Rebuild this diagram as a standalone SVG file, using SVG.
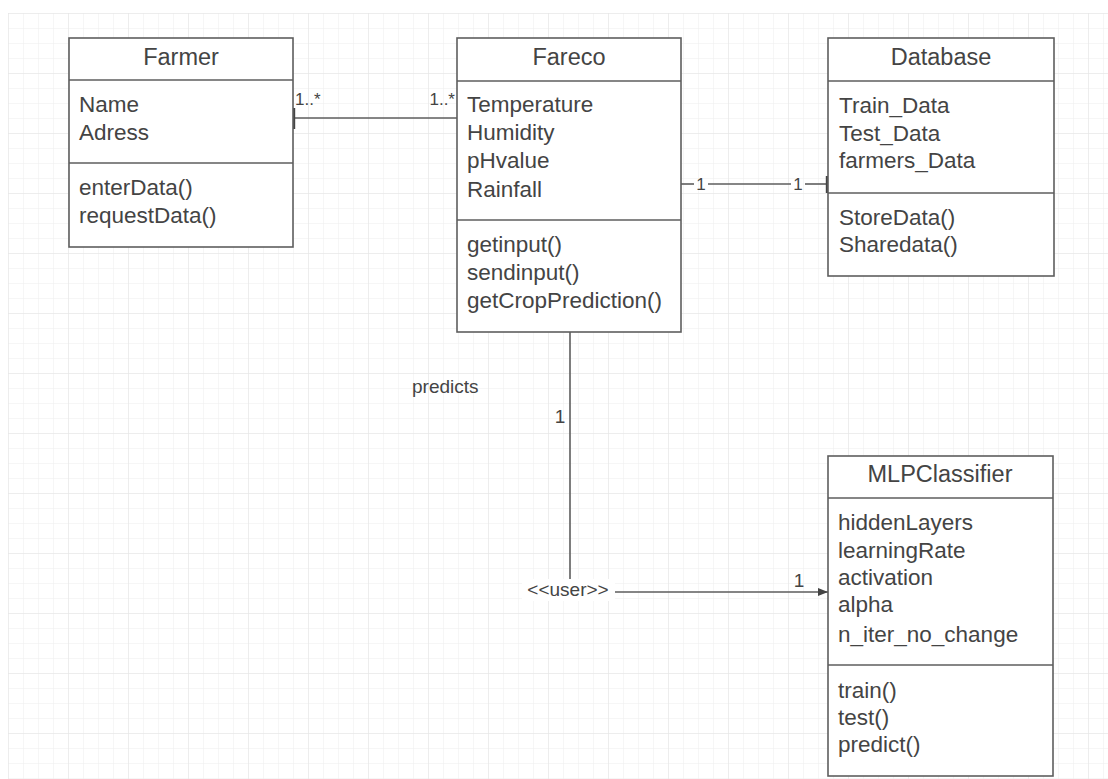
<svg xmlns="http://www.w3.org/2000/svg" width="1108" height="779" viewBox="0 0 1108 779">
  <defs>
    <pattern id="gridMinor" x="8" y="13" width="15" height="15" patternUnits="userSpaceOnUse">
      <path d="M15 0 L0 0 0 15" fill="none" stroke="#ededed" stroke-width="1"/>
    </pattern>
    <pattern id="gridMajor" x="8" y="13" width="60" height="60" patternUnits="userSpaceOnUse">
      <path d="M60 0 L0 0 0 60" fill="none" stroke="#e4e4e4" stroke-width="1"/>
    </pattern>
    <marker id="arrowFilled" viewBox="0 0 10 8" refX="10" refY="4" markerWidth="10" markerHeight="8" markerUnits="userSpaceOnUse" orient="auto">
      <path d="M0 0 L10 4 L0 8 Z" fill="#444"/>
    </marker>
  </defs>
  <style>
    .box { fill: #ffffff; stroke: #5e5e5e; stroke-width: 1.6; }
    .div { stroke: #5e5e5e; stroke-width: 1.6; }
    .title { font-family: "Liberation Sans", Arial, sans-serif; font-size: 23.5px; fill: #444; text-anchor: middle; }
    .item { font-family: "Liberation Sans", Arial, sans-serif; font-size: 22.5px; fill: #444; }
    .edge { fill: none; stroke: #5e5e5e; stroke-width: 1.6; }
    .tick { stroke: #444; stroke-width: 2.4; }
    .mult { font-family: "Liberation Sans", Arial, sans-serif; font-size: 17px; fill: #444; }
    .lbl { font-family: "Liberation Sans", Arial, sans-serif; font-size: 19px; fill: #444; }
  </style>

  <!-- page background with drawing grid -->
  <rect x="0" y="0" width="1108" height="779" fill="#ffffff"/>
  <rect x="8" y="13" width="1100" height="766" fill="url(#gridMinor)"/>
  <rect x="8" y="13" width="1100" height="766" fill="url(#gridMajor)"/>

  <!-- associations -->
  <g id="connectors">
    <!-- Farmer 1..* — 1..* Fareco -->
    <line class="edge" x1="293" y1="118" x2="457" y2="118"/>
    <line class="tick" x1="294" y1="108" x2="294" y2="129"/>
    <text class="mult" x="295" y="105">1..*</text>
    <text class="mult" x="455" y="105" text-anchor="end">1..*</text>

    <!-- Fareco 1 — 1 Database -->
    <line class="edge" x1="681" y1="184" x2="694" y2="184"/>
    <line class="edge" x1="708" y1="184" x2="791" y2="184"/>
    <line class="edge" x1="805" y1="184" x2="828" y2="184"/>
    <line class="tick" x1="827" y1="176" x2="827" y2="193"/>
    <text class="mult" x="701" y="190" text-anchor="middle">1</text>
    <text class="mult" x="798" y="190" text-anchor="middle">1</text>

    <!-- Fareco predicts MLPClassifier -->
    <path class="edge" d="M570 332 L570 592 L828 592" marker-end="url(#arrowFilled)"/>
    <rect x="522" y="579" width="93" height="22" fill="#ffffff"/>
    <text class="lbl" x="568" y="596" text-anchor="middle" font-size="17.5">&lt;&lt;user&gt;&gt;</text>
    <text class="lbl" x="412" y="393">predicts</text>
    <text class="lbl" x="560" y="423" text-anchor="middle">1</text>
    <text class="lbl" x="799" y="587" text-anchor="middle">1</text>
  </g>

  <!-- Farmer -->
  <g id="farmer">
    <rect class="box" x="69" y="38" width="224" height="209"/>
    <line class="div" x1="69" y1="80" x2="293" y2="80"/>
    <line class="div" x1="69" y1="163" x2="293" y2="163"/>
    <text class="title" x="181" y="65">Farmer</text>
    <text class="item" x="79" y="112">Name</text>
    <text class="item" x="79" y="140">Adress</text>
    <text class="item" x="79" y="195">enterData()</text>
    <text class="item" x="79" y="223">requestData()</text>
  </g>

  <!-- Fareco -->
  <g id="fareco">
    <rect class="box" x="457" y="38" width="224" height="294"/>
    <line class="div" x1="457" y1="81" x2="681" y2="81"/>
    <line class="div" x1="457" y1="220" x2="681" y2="220"/>
    <text class="title" x="569" y="65">Fareco</text>
    <text class="item" x="467" y="112">Temperature</text>
    <text class="item" x="467" y="140">Humidity</text>
    <text class="item" x="467" y="168">pHvalue</text>
    <text class="item" x="467" y="197">Rainfall</text>
    <text class="item" x="467" y="252">getinput()</text>
    <text class="item" x="467" y="280">sendinput()</text>
    <text class="item" x="467" y="308">getCropPrediction()</text>
  </g>

  <!-- Database -->
  <g id="database">
    <rect class="box" x="828" y="38" width="226" height="238"/>
    <line class="div" x1="828" y1="81" x2="1054" y2="81"/>
    <line class="div" x1="828" y1="193" x2="1054" y2="193"/>
    <text class="title" x="941" y="65">Database</text>
    <text class="item" x="839" y="113">Train_Data</text>
    <text class="item" x="839" y="141">Test_Data</text>
    <text class="item" x="839" y="168">farmers_Data</text>
    <text class="item" x="839" y="225">StoreData()</text>
    <text class="item" x="839" y="252">Sharedata()</text>
  </g>

  <!-- MLPClassifier -->
  <g id="mlpclassifier">
    <rect class="box" x="828" y="456" width="225" height="320"/>
    <line class="div" x1="828" y1="498" x2="1053" y2="498"/>
    <line class="div" x1="828" y1="665" x2="1053" y2="665"/>
    <text class="title" x="940" y="482">MLPClassifier</text>
    <text class="item" x="838" y="530">hiddenLayers</text>
    <text class="item" x="838" y="558">learningRate</text>
    <text class="item" x="838" y="585">activation</text>
    <text class="item" x="838" y="612">alpha</text>
    <text class="item" x="838" y="642">n_iter_no_change</text>
    <text class="item" x="838" y="698">train()</text>
    <text class="item" x="838" y="725">test()</text>
    <text class="item" x="838" y="752">predict()</text>
  </g>
</svg>
